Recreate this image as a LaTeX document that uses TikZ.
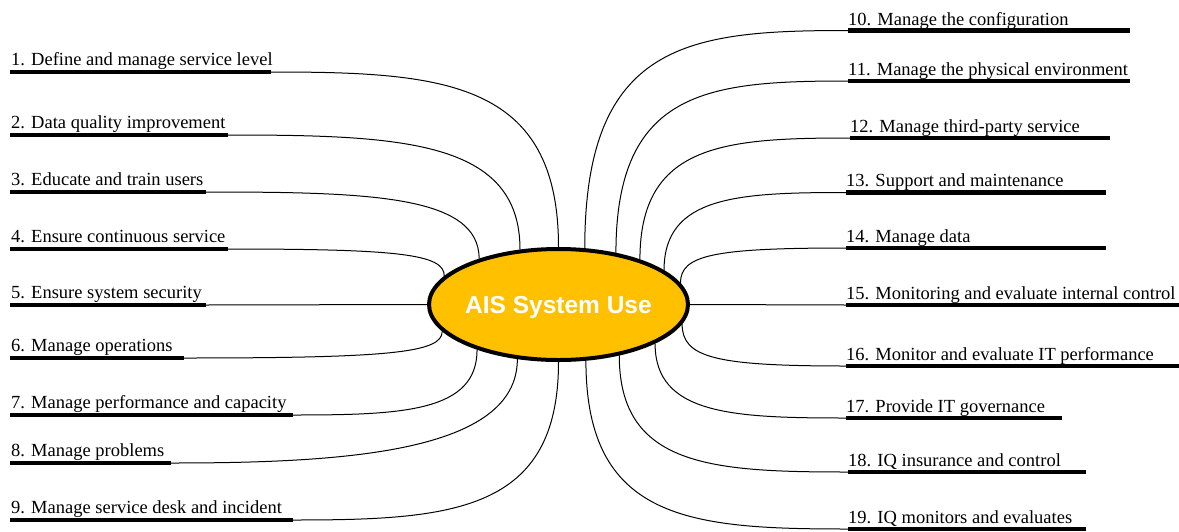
\documentclass[tikz,border=0pt]{standalone}
\usepackage{fontspec}
\setmainfont{Liberation Serif}
\newfontfamily\arialb{Liberation Sans}
\usetikzlibrary{shapes.geometric,calc}
\definecolor{hubfill}{HTML}{FFC000}
\newcommand\linkto[4]{\draw[conn] (#1) .. controls ($(#1)!#3!(#1 -| #2)$) and ($(#2)!#4!(#1 -| #2)$) .. (#2);}
\begin{document}
\begin{tikzpicture}[x=1pt,y=-1pt,
  lbl/.style={anchor=base west,inner sep=0pt,font=\fontsize{18.5}{22}\selectfont},
  bar/.style={line width=4.5pt,line cap=butt},
  conn/.style={line width=1pt,black},
  hub/.style={ellipse,draw=black,line width=4pt,fill=hubfill,minimum width=259pt,minimum height=111pt,inner sep=0pt},
  hubtext/.style={text=white,font=\arialb\bfseries\fontsize{24.5}{28}\selectfont,inner sep=0pt,anchor=base}]
\useasboundingbox (0,0) rectangle (1179,531);
\node[hub] (c) at (558.5,304.5) {};
\node[hubtext] (ct) at (558.5,313) {AIS System Use};
% left bars
\foreach \n/\y/\xe in {1/72/271,2/135/228,3/192/206,4/249/228,5/305/206,6/358/184,7/415/293,8/463/171,9/520/293}{
  \coordinate (L\n s) at (10,\y);
  \coordinate (L\n e) at (\xe,\y);
  \draw[bar] (L\n s) -- (L\n e);
}
% right bars
\foreach \n/\y/\xs/\xe in {10/30.5/848/1130,11/81/848/1130,12/138/850/1110,13/192.5/846/1106,14/248/846/1106,15/305/846/1179,16/366/846/1179,17/418/846/1062,18/472/848/1086,19/529/848/1086}{
  \coordinate (R\n s) at (\xs,\y);
  \coordinate (R\n e) at (\xe,\y);
  \draw[bar] (R\n s) -- (R\n e);
}
% labels
\node[lbl] (t1) at (11,65.7) {1. Define and manage service level};
\node[lbl] (t2) at (11,128.7) {2. Data quality improvement};
\node[lbl] (t3) at (11,185.7) {3. Educate and train users};
\node[lbl] (t4) at (11,242.7) {4. Ensure continuous service};
\node[lbl] (t5) at (11,298.7) {5. Ensure system security};
\node[lbl] (t6) at (11,351.7) {6. Manage operations};
\node[lbl] (t7) at (11,408.7) {7. Manage performance and capacity};
\node[lbl] (t8) at (11,456.7) {8. Manage problems};
\node[lbl] (t9) at (11,513.7) {9. Manage service desk and incident};
\node[lbl] (t10) at (848,25.7) {10. Manage the configuration};
\node[lbl] (t11) at (848,75) {11. Manage the physical environment};
\node[lbl] (t12) at (850,132) {12. Manage third-party service};
\node[lbl] (t13) at (846,186.5) {13. Support and maintenance};
\node[lbl] (t14) at (846,242) {14. Manage data};
\node[lbl] (t15) at (846,299) {15. Monitoring and evaluate internal control};
\node[lbl] (t16) at (846,360) {16. Monitor and evaluate IT performance};
\node[lbl] (t17) at (846,412) {17. Provide IT governance};
\node[lbl] (t18) at (848,466) {18. IQ insurance and control};
\node[lbl] (t19) at (848,523) {19. IQ monitors and evaluates};
% connectors left
\linkto{L1e}{c.90}{0.6}{0.95}
\linkto{L2e}{c.125}{0.6}{0.95}
\linkto{L3e}{c.150}{0.6}{0.95}
\linkto{L4e}{c.166}{0.8}{0.8}
\draw[conn] (L5e) -- (c.180);
\linkto{L6e}{c.193}{0.8}{0.8}
\linkto{L7e}{c.209}{0.6}{0.95}
\linkto{L8e}{c.233}{0.5}{0.9}
\linkto{L9e}{c.270}{0.6}{0.95}
% connectors right
\linkto{R10s}{c.65}{0.6}{0.95}
\linkto{R11s}{c.42}{0.6}{0.95}
\linkto{R12s}{c.29}{0.6}{0.95}
\linkto{R13s}{c.18}{0.6}{0.95}
\linkto{R14s}{c.10}{0.8}{0.8}
\draw[conn] (c.0) -- (R15s);
\linkto{R16s}{c.351}{0.8}{0.8}
\linkto{R17s}{c.338}{0.6}{0.95}
\linkto{R18s}{c.320}{0.6}{0.95}
\linkto{R19s}{c.296}{0.6}{0.95}
\end{tikzpicture}
\end{document}
